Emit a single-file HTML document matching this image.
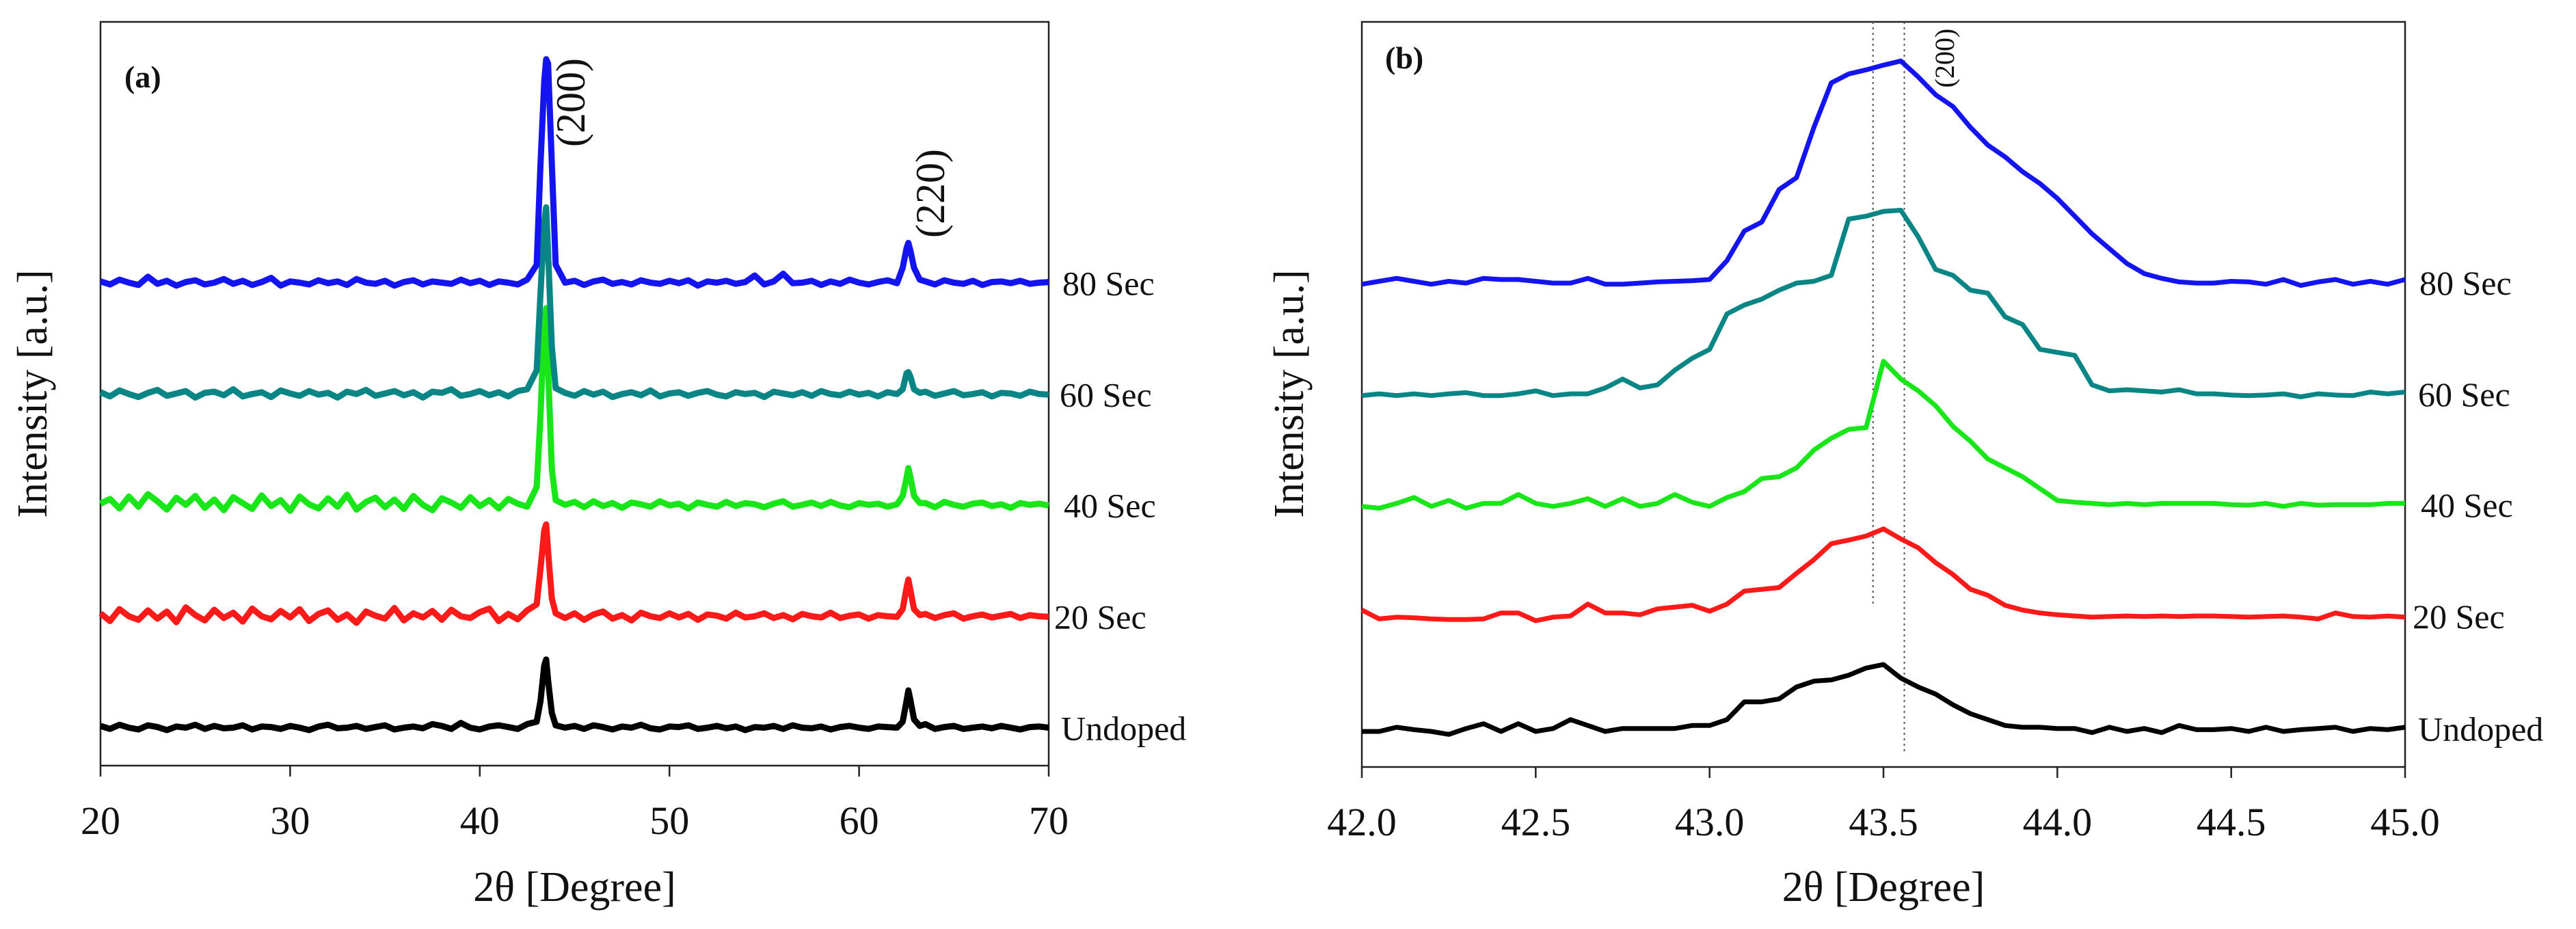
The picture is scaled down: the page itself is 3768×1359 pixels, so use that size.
<!DOCTYPE html>
<html><head><meta charset="utf-8"><style>
html,body{margin:0;padding:0;background:#fff;}
svg{display:block;font-family:"Liberation Serif",serif;}
</style></head><body>
<svg id="chart" width="3768" height="1359" viewBox="0 0 3768 1359" xmlns="http://www.w3.org/2000/svg">
<rect width="3768" height="1359" fill="#fff"/>
</svg>
<script>
// ---------- Panel (a) data ----------
const xA = [20,20.5,21,21.5,22,22.5,23,23.5,24,24.5,25,25.5,26,26.5,27,27.5,28,28.5,29,29.5,30,30.5,31,31.5,32,32.5,33,33.5,34,34.5,35,35.5,36,36.5,37,37.5,38,38.5,39,39.5,40,40.5,41,41.5,42,42.5,
43,43.2,43.4,43.5,43.6,43.8,44,
44.5,45,45.5,46,46.5,47,47.5,48,48.5,49,49.5,50,50.5,51,51.5,52,52.5,53,53.5,54,54.5,55,55.5,56,56.5,57,57.5,58,58.5,59,59.5,60,60.5,61,61.5,62,
62.3,62.5,62.6,62.7,62.9,63.2,
63.5,64,64.5,65,65.5,66,66.5,67,67.5,68,68.5,69,69.5,70];
const aUndoped = [3,-2,5,0,-3,4,1,-4,2,0,5,-2,3,-1,0,4,-3,2,1,-2,3,0,-4,2,5,-1,0,3,-2,1,4,-3,0,2,-1,6,3,-2,8,0,-3,2,4,1,-2,6,
10,45,105,115,80,25,4,
0,3,-2,4,1,-3,2,0,5,-1,-3,2,1,4,-2,0,3,-1,2,-4,1,0,3,-2,4,0,-1,2,-3,1,3,0,-2,2,1,0,
10,45,63,48,14,3,
6,-2,1,3,-2,0,2,-1,3,0,-3,1,2,0];
const a20 = [5,-8,12,0,-6,10,-4,8,-10,15,2,-7,11,-3,6,-9,13,0,-5,9,-2,12,-8,4,10,-6,3,-11,8,1,-4,14,-7,5,-2,9,-6,11,0,-3,7,13,-8,4,-5,10,
20,80,145,155,110,30,5,
-3,5,-6,3,8,-4,2,-7,6,0,-3,5,-2,4,-6,3,1,-4,6,-2,0,5,-3,2,-5,4,0,-2,6,-3,1,3,-4,2,0,-1,
12,48,62,45,12,2,
4,-3,2,5,-4,0,3,-2,1,4,-3,2,0,-1];
const a40 = [2,10,-6,14,-3,18,6,-8,12,0,15,-5,9,-9,13,3,-7,16,-2,8,-10,14,1,-6,11,-3,17,-8,5,12,-4,9,-7,15,0,-9,11,4,-5,13,-2,8,-6,10,2,-3,
30,150,310,332,230,60,8,
0,5,-4,6,-2,3,-5,4,1,-3,6,-1,2,-6,4,0,-3,5,-2,3,1,-4,2,6,-3,0,4,-2,5,-1,-4,3,0,2,-3,1,
15,45,62,48,15,3,
3,-4,5,0,-3,2,4,-2,1,-5,3,0,2,-1];
const a60 = [3,-4,6,0,-5,2,7,-3,1,5,-6,2,4,-2,8,-4,0,3,-5,6,1,-3,5,-1,2,-6,4,0,7,-3,1,5,-2,3,-6,4,2,8,-3,0,5,-2,3,-4,5,8,
40,170,290,315,240,80,10,
2,-3,5,-1,4,-5,0,3,-2,6,-4,1,3,-3,2,5,-1,-4,3,0,2,-5,4,1,-2,3,-3,5,0,-2,4,-1,2,-4,3,0,
8,35,37,30,8,2,
4,-3,1,5,-2,0,3,-4,2,1,-3,4,0,-1];
const a80 = [2,-3,5,0,-4,10,-2,3,-5,1,4,-3,0,6,-2,3,-4,1,8,-5,2,0,-3,4,-1,2,-4,6,0,-2,3,-5,1,4,-3,2,0,-2,5,-1,3,-4,2,0,-3,5,
30,200,340,377,370,200,30,
0,3,-4,2,5,-2,1,-3,4,0,-2,3,-1,4,-5,2,0,3,-2,1,12,-3,2,15,-1,0,3,-4,2,-2,5,0,-3,1,4,-1,
25,58,67,55,25,5,
2,-3,4,0,-2,3,-4,1,2,-1,3,-2,0,1];
const offsetsA = [64,252,440,627,815];
const ticksA = [20,30,40,50,60,70];

// ---------- Panel (b) data ----------
const xB = [42,42.05,42.1,42.15,42.2,42.25,42.3,42.35,42.4,42.45,42.5,42.55,42.6,42.65,42.7,42.75,42.8,42.85,42.9,42.95,
43,43.05,43.1,43.15,43.2,43.25,43.3,43.35,43.4,43.45,43.5,43.55,43.6,43.65,43.7,43.75,43.8,43.85,43.9,43.95,
44,44.05,44.1,44.15,44.2,44.25,44.3,44.35,44.4,44.45,44.5,44.55,44.6,44.65,44.7,44.75,44.8,44.85,44.9,44.95,45];
const bUndoped = [-5,-5,2,-2,-5,-10,0,8,-5,8,-5,0,15,5,-5,0,0,0,0,5,
5,15,45,45,50,70,80,82,90,102,108,85,70,58,40,25,15,5,2,2,0,0,-7,2,-5,0,-7,5,-2,-2,0,-5,2,-5,-2,0,2,-5,0,-2,2];
const b20 = [10,-5,-2,-3,-5,-6,-6,-5,5,5,-8,-2,0,20,5,5,2,12,15,18,
8,20,42,45,48,72,95,122,128,135,147,130,115,90,70,45,35,18,10,5,2,0,-2,-1,0,-1,0,-1,0,0,-1,-2,-1,0,-2,-5,5,-1,-2,0,-2];
const b40 = [-3,-6,2,12,-3,7,-6,2,2,17,2,-3,2,10,-3,10,-3,2,17,4,
-3,12,22,44,47,62,92,112,127,130,242,212,192,167,132,107,77,62,47,27,7,4,2,0,2,0,2,2,2,2,0,-1,2,-3,2,-1,0,0,0,2,2];
const b60 = [-3,0,-3,0,-3,0,2,-3,-3,0,5,-3,0,0,10,25,10,15,40,60,
75,135,150,160,175,187,190,200,295,300,308,310,265,210,200,175,170,130,117,75,70,65,15,5,7,5,3,7,0,0,-2,-3,-2,0,-5,0,-2,-3,3,0,3];
const b80 = [-3,2,7,2,-3,2,-1,7,5,5,2,-1,-1,7,-3,-3,-1,1,2,3,
5,37,87,102,157,177,262,337,352,359,367,374,347,317,297,262,232,212,187,167,142,112,82,57,32,15,7,1,-1,-1,2,1,-3,5,-5,1,5,-3,2,-3,5];
const offsetsB = [65,255,443,630,818];
const ticksB = [42.0,42.5,43.0,43.5,44.0,44.5,45.0];
const markerLinesB = [43.47,43.56];

const seriesNames = ["Undoped","20 Sec","40 Sec","60 Sec","80 Sec"];
const seriesColors = ["#000000","#ff1a1a","#19e619","#0a8585","#1414f0"];

const NS = "http://www.w3.org/2000/svg";
const svg = document.getElementById('chart');
function mk(tag, attrs, parent){ const e=document.createElementNS(NS,tag); for(const k in attrs) e.setAttribute(k,attrs[k]); (parent||svg).appendChild(e); return e; }

function drawPanel(p){
  const g = mk('g',{});
  
  
  const sx = v => p.L + (v - p.x0)/(p.x1 - p.x0)*(p.R - p.L);
  const sy = v => p.B - v/p.ymax*(p.B - p.T);
  const fr = mk('rect',{x:p.L,y:p.T,width:p.R-p.L,height:p.B-p.T,fill:'none',stroke:'#222','stroke-width':2.5},g);
  
  
  p.ticks.forEach(t=>{
    const x = sx(t);
    const tl = mk('line',{x1:x,x2:x,y1:p.B,y2:p.B+16,stroke:'#222','stroke-width':2.5},g);
    
    
    const tx = mk('text',{x:x,y:p.B+100,'font-size':58,'text-anchor':'middle',fill:'#111'},g);
    tx.textContent = p.fmt(t);
    
    
  });
  (p.markers||[]).forEach((m,i)=>{
    const ml = mk('line',{x1:sx(m),x2:sx(m),y1:p.T,y2:i===0?p.T+855:p.T+1070,stroke:'#555','stroke-width':2,'stroke-dasharray':'3,5'},g);
    
    
  });
  p.series.forEach((s,i)=>{
    const pts = p.xs.map((x,j)=> sx(x).toFixed(1)+','+sy(s[j]+p.offsets[i]).toFixed(1)).join(' ');
    const pl = mk('polyline',{points:pts,fill:'none',stroke:seriesColors[i],'stroke-width':p.sw,'stroke-linejoin':'round'},g);
    
    
    const lb = mk('text',{x:p.labelX+(p.labelDx[i]||0),y:sy(p.offsets[i])+18,'font-size':50,fill:'#111'},g);
    lb.textContent = seriesNames[i];
    
    
  });
  const xl = mk('text',{x:(p.L+p.R)/2,y:1318,'font-size':62,'text-anchor':'middle',fill:'#111'},g);
  xl.textContent = '2θ [Degree]';
  
  
  const yl = mk('text',{x:0,y:0,'font-size':62,'text-anchor':'middle',fill:'#111',transform:'translate('+p.ylX+',576) rotate(-90)'},g);
  yl.textContent = 'Intensity [a.u.]';
  
  
  return {g,sx,sy};
}

const pa = drawPanel({key:'a',L:147,R:1534,T:32,B:1120,x0:20,x1:70,ymax:1255,ticks:ticksA,fmt:t=>String(t),
  xs:xA,series:[aUndoped,a20,a40,a60,a80],offsets:offsetsA,sw:9,labelX:1550,labelDx:[2,-8,6,0,4],ylX:68});
const pb = drawPanel({key:'b',L:1992,R:3518,T:32,B:1122,x0:42,x1:45,ymax:1258,ticks:ticksB,fmt:t=>t.toFixed(1),
  xs:xB,series:[bUndoped,b20,b40,b60,b80],offsets:offsetsB,sw:7,labelX:3537,labelDx:[0,-8,4,0,2],ylX:1906,markers:markerLinesB});

function addText(txt,attrs,name){ const t=mk('text',attrs); t.textContent=txt;
  
   }
addText('(a)',{x:182,y:128,'font-size':46,'font-weight':'bold',fill:'#111'},'panel-a-label');
addText('(b)',{x:2026,y:100,'font-size':46,'font-weight':'bold',fill:'#111'},'panel-b-label');
addText('(200)',{x:0,y:0,'font-size':60,'text-anchor':'middle',fill:'#111',transform:'translate(855,150) rotate(-90)'},'peak-200-label');
addText('(220)',{x:0,y:0,'font-size':60,'text-anchor':'middle',fill:'#111',transform:'translate(1381,283) rotate(-90)'},'peak-220-label');
addText('(200)',{x:0,y:0,'font-size':40,'text-anchor':'middle',fill:'#111',transform:'translate(2858,85) rotate(-90)'},'peak-200-label-b');
</script>
</body></html>
